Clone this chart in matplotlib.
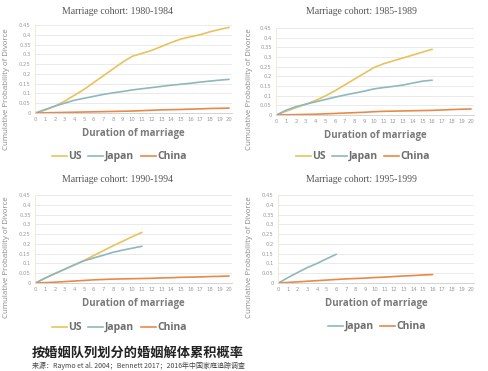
import matplotlib
matplotlib.use("Agg")
import matplotlib.pyplot as plt
from matplotlib.lines import Line2D

# ---- data ----
durations = list(range(0, 21))
x_tick_labels = [str(i) for i in range(21)]
y_ticks = [0, 0.05, 0.1, 0.15, 0.2, 0.25, 0.3, 0.35, 0.4, 0.45]
y_tick_labels = ["0", "0.05", "0.1", "0.15", "0.2", "0.25", "0.3", "0.35", "0.4", "0.45"]

cohorts = ["Marriage cohort: 1980-1984", "Marriage cohort: 1985-1989",
           "Marriage cohort: 1990-1994", "Marriage cohort: 1995-1999"]

us_1980 = [0, 0.015, 0.035, 0.06, 0.09, 0.12, 0.155, 0.19, 0.225, 0.26, 0.29,
           0.305, 0.32, 0.34, 0.36, 0.378, 0.39, 0.40, 0.415, 0.427, 0.438]
japan_1980 = [0, 0.018, 0.035, 0.05, 0.065, 0.075, 0.085, 0.095, 0.103, 0.11, 0.118,
              0.124, 0.13, 0.136, 0.142, 0.147, 0.152, 0.158, 0.163, 0.168, 0.172]
china_1980 = [0, 0.001, 0.002, 0.003, 0.004, 0.005, 0.006, 0.007, 0.008, 0.009, 0.01,
              0.012, 0.014, 0.016, 0.017, 0.018, 0.02, 0.021, 0.023, 0.024, 0.025]

us_1985 = [0, 0.02, 0.038, 0.055, 0.075, 0.098, 0.125, 0.155, 0.185, 0.215, 0.245,
           0.265, 0.28, 0.295, 0.31, 0.325, 0.34]
japan_1985 = [0, 0.025, 0.043, 0.056, 0.068, 0.08, 0.092, 0.103, 0.113, 0.123, 0.135,
              0.142, 0.148, 0.155, 0.165, 0.175, 0.18]
china_1985 = [0, 0.001, 0.002, 0.003, 0.004, 0.006, 0.008, 0.01, 0.012, 0.014, 0.017,
              0.019, 0.02, 0.021, 0.022, 0.023, 0.024, 0.026, 0.028, 0.03, 0.031]

us_1990 = [0, 0.025, 0.048, 0.07, 0.093, 0.115, 0.14, 0.165, 0.19, 0.213, 0.237, 0.259]
japan_1990 = [0, 0.025, 0.048, 0.07, 0.092, 0.113, 0.128, 0.142, 0.157, 0.168, 0.178, 0.188]
china_1990 = [0, 0.002, 0.004, 0.007, 0.01, 0.013, 0.016, 0.018, 0.02, 0.021, 0.022,
              0.023, 0.024, 0.026, 0.027, 0.029, 0.03, 0.031, 0.033, 0.034, 0.036]

japan_1995 = [0, 0.028, 0.054, 0.079, 0.1, 0.124, 0.147]
china_1995 = [0, 0.003, 0.006, 0.009, 0.012, 0.015, 0.018, 0.021, 0.023, 0.025, 0.028,
              0.03, 0.033, 0.036, 0.038, 0.041, 0.043]

panel_series = [
    {"US": us_1980, "Japan": japan_1980, "China": china_1980},
    {"US": us_1985, "Japan": japan_1985, "China": china_1985},
    {"US": us_1990, "Japan": japan_1990, "China": china_1990},
    {"Japan": japan_1995, "China": china_1995},
]

title_cn = "按婚姻队列划分的婚姻解体累积概率"
source_cn = "来源：Raymo et al. 2004；Bennett 2017；2016年中国家庭追踪调查"

# ---- style ----
colors = {"US": "#E9C25C", "Japan": "#8DB8C0", "China": "#E8894A"}
W, H = 488, 371
fig = plt.figure(figsize=(W / 100, H / 100), dpi=100)
fig.patch.set_facecolor("white")

# pixel boxes: (left, right, y_zero, y_top)
boxes = [(35, 232, 113, 25), (276, 474, 115, 28), (35, 232, 283, 195), (278, 474, 283, 195)]
title_pos = [(118, 12), (361, 12), (118, 179), (361, 179)]
ylabel_pos = [(7, 89), (250, 89), (7, 257), (250, 257)]
# legend layout: y in px and x-start of each legend handle
legend_y = [156, 156, 327, 326]
legend_x = [[52, 88, 141], [296, 332, 384], [52, 88, 141], [328, 380]]
handle_len = 15

sans = ["Open Sans", "DejaVu Sans"]

for i, (l, r, y0, yt) in enumerate(boxes):
    ax = fig.add_axes([l / W, 1 - y0 / H, (r - l) / W, (y0 - yt) / H])
    for name, vals in panel_series[i].items():
        ax.plot(durations[:len(vals)], vals, color=colors[name], lw=1.2,
                solid_capstyle="round")
    ax.set_xlim(-0.05, 20.3)
    ax.set_ylim(0, 0.45)
    ax.set_yticks(y_ticks)
    ax.set_yticklabels(y_tick_labels)
    ax.set_xticks(durations)
    ax.set_xticklabels(x_tick_labels)
    ax.tick_params(axis="both", length=0, labelsize=3.8, labelcolor="#9A9A9A", pad=3)
    ax.grid(axis="y", color="#E6E6E6", lw=0.6)
    ax.set_axisbelow(True)
    for s in ["top", "right"]:
        ax.spines[s].set_visible(False)
    ax.spines["bottom"].set_color("#D4D4D4")
    ax.spines["bottom"].set_linewidth(0.7)
    ax.spines["left"].set_color("#F1E6CF")
    ax.spines["left"].set_linewidth(0.6)
    ax.set_xlabel("Duration of marriage", fontsize=7, fontweight="bold",
                  color="#7A7A7A", family=sans, labelpad=4.5)

    lx, ly = ylabel_pos[i]
    fig.text(lx / W, 1 - ly / H, "Cumulative Probability of Divorce", rotation=90,
             ha="center", va="center", fontsize=5.7, color="#8A8A8A", family=sans)

    tx, ty = title_pos[i]
    fig.text(tx / W, 1 - ty / H, cohorts[i], ha="center", va="center",
             fontsize=7, family="Liberation Serif", color="#555555")

    # manual legend, baseline aligned
    ly_f = 1 - legend_y[i] / H
    for name, hx in zip(panel_series[i].keys(), legend_x[i]):
        fig.add_artist(Line2D([hx / W, (hx + handle_len) / W], [ly_f, ly_f],
                              color=colors[name], lw=1.2, transform=fig.transFigure))
        fig.text((hx + handle_len + 1.5) / W, ly_f - 3.2 / H, name, ha="left",
                 va="baseline", fontsize=7.5, fontweight="bold", color="#6E6E6E",
                 family=sans)

fig.text(32 / W, 1 - 353 / H, title_cn, ha="left", va="center", fontsize=9.5,
         fontweight="bold", family=["Noto Sans CJK SC", "DejaVu Sans"], color="#222222")
fig.text(32 / W, 1 - 366 / H, source_cn, ha="left", va="center", fontsize=5,
         family=["Noto Sans CJK SC", "DejaVu Sans"], color="#444444")

fig.savefig("out.png", dpi=100, facecolor="white")
